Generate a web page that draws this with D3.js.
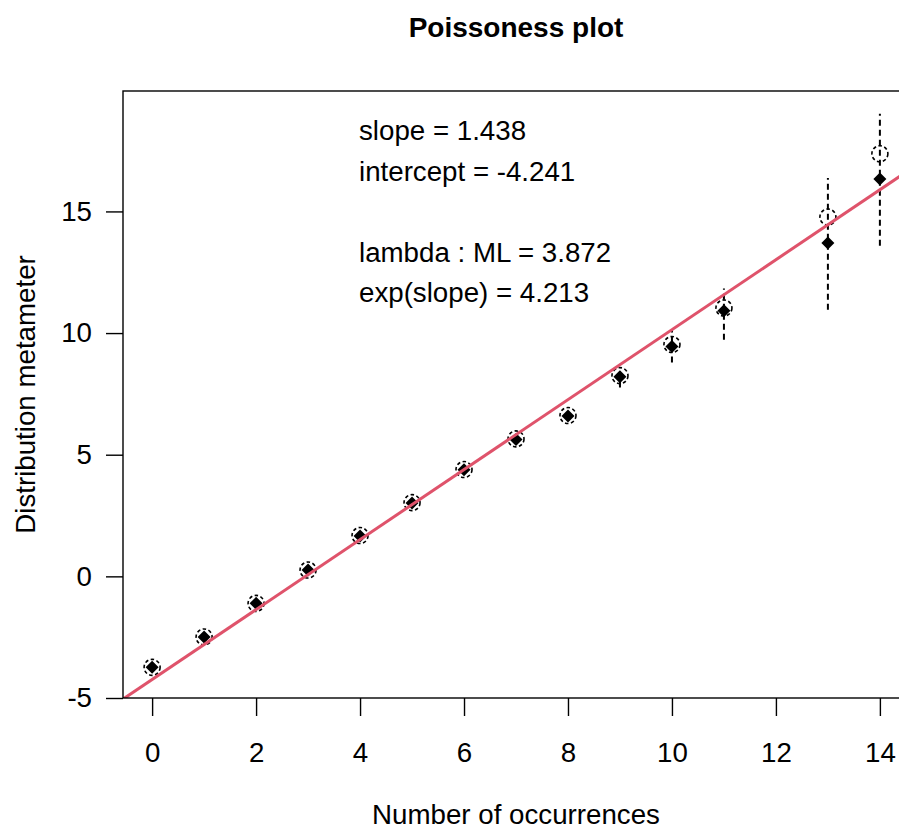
<!DOCTYPE html>
<html>
<head>
<meta charset="utf-8">
<script src="https://cdn.jsdelivr.net/npm/d3@7"></script>
<style>
  html, body { margin: 0; padding: 0; background: #fff; }
  svg { display: block; }
  text { font-family: "Liberation Sans", Arial, sans-serif; fill: #000; }
</style>
</head>
<body>
<svg id="chart" width="899" height="830"></svg>
<script>
// ---- data ----
const counts   = [0, 1, 2, 3, 4, 5, 6, 7, 8, 9, 10, 11, 13, 14];
const metameter = [-3.74, -2.49, -1.11, 0.26, 1.68, 3.03, 4.39, 5.65, 6.61, 8.25, 9.53, 11.03, 14.77, 17.37];
const centered  = [-3.74, -2.49, -1.11, 0.26, 1.66, 3.02, 4.38, 5.63, 6.59, 8.20, 9.45, 10.92, 13.70, 16.33];
const ciLower   = [-3.90, -2.62, -1.22, 0.16, 1.56, 2.92, 4.26, 5.48, 6.40, 7.76, 8.79, 9.73, 10.96, 13.59];
const ciUpper   = [-3.58, -2.36, -1.00, 0.36, 1.76, 3.12, 4.50, 5.78, 6.78, 8.58, 10.16, 11.83, 16.37, 19.01];
const slope = 1.438;
const intercept = -4.241;
const xTicks = [0, 2, 4, 6, 8, 10, 12, 14];
const yTicks = [-5, 0, 5, 10, 15];
const annotations = ["slope = 1.438", "intercept = -4.241", "", "lambda : ML = 3.872", "exp(slope) = 4.213"];
const title = "Poissoness plot";
const xTitle = "Number of occurrences";
const yTitle = "Distribution metameter";

// ---- layout ----
const svg = d3.select("#chart");
const pLeft = 123, pRight = 909, pTop = 91, pBottom = 698;
const x = d3.scaleLinear().domain([-0.56, 14.56]).range([pLeft, pRight]);
const y = d3.scaleLinear().domain([-5, 19.95]).range([pBottom, pTop]);
const FS = 27.7;

svg.append("defs").append("clipPath").attr("id", "clip")
  .append("rect").attr("x", pLeft).attr("y", pTop).attr("width", pRight - pLeft).attr("height", pBottom - pTop);

const plot = svg.append("g").attr("clip-path", "url(#clip)");

// error bars (dashed)
plot.selectAll("line.ci").data(counts).enter().append("line")
  .attr("class", "ci")
  .attr("x1", (d) => x(d)).attr("x2", (d) => x(d))
  .attr("y1", (d, i) => y(ciLower[i])).attr("y2", (d, i) => y(ciUpper[i]))
  .attr("stroke", "#000").attr("stroke-width", 2).attr("stroke-dasharray", "6,4");

// open circles (dashed outline)
plot.selectAll("circle.obs").data(counts).enter().append("circle")
  .attr("class", "obs")
  .attr("cx", (d) => x(d)).attr("cy", (d, i) => y(metameter[i]))
  .attr("r", 8)
  .attr("fill", "none").attr("stroke", "#000").attr("stroke-width", 1.6)
  .attr("stroke-dasharray", "3.5,2.5");

// filled diamonds (centered points)
plot.selectAll("path.ctr").data(counts).enter().append("path")
  .attr("class", "ctr")
  .attr("transform", (d, i) => `translate(${x(d)},${y(centered[i])})`)
  .attr("d", "M0,-6.5L6.5,0L0,6.5L-6.5,0Z")
  .attr("fill", "#000");

// fitted line
const xs = x.domain();
plot.append("line")
  .attr("x1", x(xs[0])).attr("y1", y(intercept + slope * xs[0]))
  .attr("x2", x(xs[1])).attr("y2", y(intercept + slope * xs[1]))
  .attr("stroke", "#DF536B").attr("stroke-width", 3);

// box
svg.append("rect").attr("x", pLeft).attr("y", pTop)
  .attr("width", pRight - pLeft).attr("height", pBottom - pTop)
  .attr("fill", "none").attr("stroke", "#000").attr("stroke-width", 1.4);

// x axis
const xAxis = d3.axisBottom(x).tickValues(xTicks).tickSize(18).tickPadding(26).tickFormat((d) => String(d));
const gx = svg.append("g").attr("transform", `translate(0,${pBottom})`).call(xAxis);
gx.select(".domain").remove();
gx.selectAll(".tick line").attr("stroke", "#000").attr("stroke-width", 1.4);
gx.selectAll(".tick text").attr("font-size", FS).attr("font-family", "Liberation Sans, Arial, sans-serif").attr("fill", "#000");

// y axis
const yAxis = d3.axisLeft(y).tickValues(yTicks).tickSize(17).tickPadding(14).tickFormat((d) => String(d));
const gy = svg.append("g").attr("transform", `translate(${pLeft},0)`).call(yAxis);
gy.select(".domain").remove();
gy.selectAll(".tick line").attr("stroke", "#000").attr("stroke-width", 1.4);
gy.selectAll(".tick text").attr("font-size", FS).attr("font-family", "Liberation Sans, Arial, sans-serif").attr("fill", "#000");

// annotations
svg.selectAll("text.ann").data(annotations).enter().append("text")
  .attr("class", "ann")
  .attr("x", 359).attr("y", (d, i) => 140 + i * 40.5)
  .attr("font-size", FS)
  .text((d) => d);

// titles
svg.append("text").attr("x", (pLeft + pRight) / 2).attr("y", 37)
  .attr("text-anchor", "middle").attr("font-size", 28).attr("font-weight", "bold").text(title);
svg.append("text").attr("x", (pLeft + pRight) / 2).attr("y", 824)
  .attr("text-anchor", "middle").attr("font-size", FS).text(xTitle);
svg.append("text").attr("transform", `translate(35,${(pTop + pBottom) / 2}) rotate(-90)`)
  .attr("text-anchor", "middle").attr("font-size", FS).text(yTitle);
</script>
</body>
</html>
